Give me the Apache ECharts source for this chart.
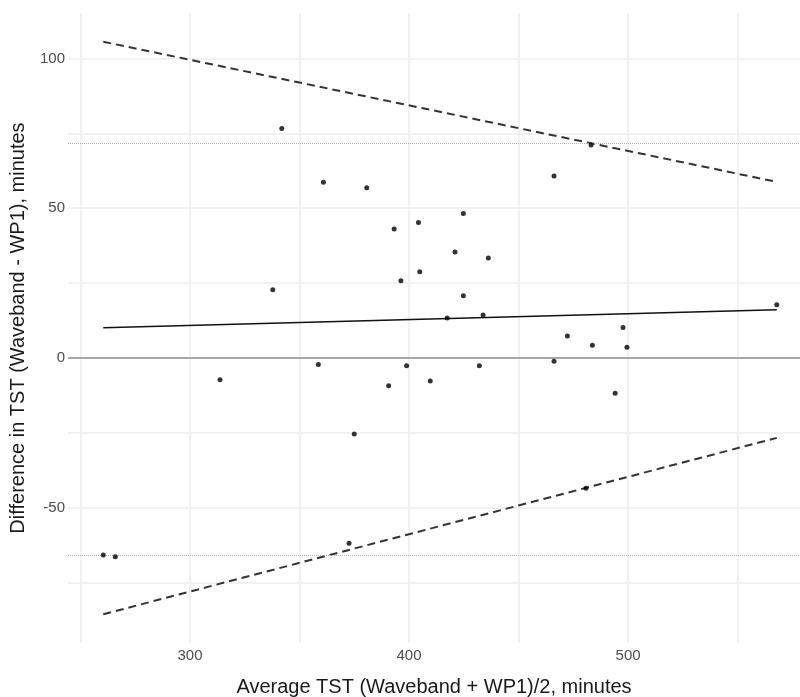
<!DOCTYPE html>
<html>
<head>
<meta charset="utf-8">
<script src="https://cdn.jsdelivr.net/npm/echarts@6/dist/echarts.min.js"></script>
<style>
  html, body { margin: 0; padding: 0; background: #fff; }
  #chart { width: 800px; height: 697px; }
</style>
</head>
<body>
<div id="chart"></div>
<script>
// average TST (x) and difference (y) per participant
const avgTST = [260.4, 265.9, 313.7, 337.8, 341.9, 358.6, 360.9, 372.6, 375.0, 380.7,
  390.7, 393.2, 396.3, 398.9, 404.3, 404.9, 409.7, 417.4, 421.0, 424.8,
  424.8, 432.1, 433.8, 436.2, 466.2, 466.2, 472.3, 480.8, 483.1, 483.7,
  494.1, 497.7, 499.5, 567.9];
const diffTST = [-65.8, -66.4, -7.3, 22.8, 76.6, -2.2, 58.7, -61.9, -25.4, 56.8,
  -9.3, 43.1, 25.8, -2.6, 45.2, 28.8, -7.7, 13.3, 35.4, 48.2,
  20.8, -2.6, 14.3, 33.4, 60.8, -1.1, 7.3, -43.5, 71.1, 4.2,
  -11.8, 10.2, 3.6, 17.8];

// regression line and its limits (end points)
const fitX = [260.4, 567.9];
const fitMid = [10.1, 16.1];
const fitUpper = [105.6, 58.8];
const fitLower = [-85.6, -26.7];

// horizontal limits of agreement (dotted)
const loaLines = [71.8, -65.8];

const xTicks = [300, 400, 500];
const yTicks = [-50, 0, 50, 100];
const xGrid = [250, 300, 350, 400, 450, 500, 550];
const yGrid = [-75, -50, -25, 0, 25, 50, 75, 100];

const pairs = (xs, ys) => xs.map((x, i) => [x, ys[i]]);

const myChart = echarts.init(document.getElementById('chart'));

const fitLine = (ys, type, color, width) => ({
  type: 'line',
  data: pairs(fitX, ys),
  symbol: 'none',
  silent: true,
  lineStyle: { color: color, width: width, type: type },
  z: 3
});

const option = {
  animation: false,
  backgroundColor: '#fff',
  grid: { left: 68, right: 0, top: 13, bottom: 54, outerBoundsMode: 'none', containLabel: false },
  xAxis: {
    type: 'value',
    min: 244.3,
    max: 578.5,
    name: 'Average TST (Waveband + WP1)/2, minutes',
    nameLocation: 'middle',
    nameGap: 34,
    nameTextStyle: { fontSize: 20, color: '#1a1a1a', fontFamily: 'Liberation Sans' },
    axisLine: { show: false },
    axisTick: { show: false, customValues: xGrid },
    axisLabel: {
      customValues: xTicks,
      fontSize: 15, color: '#4d4d4d', margin: 5, fontFamily: 'Liberation Sans'
    },
    splitLine: { show: true, lineStyle: { color: '#ececec', width: 1.5 } }
  },
  yAxis: {
    type: 'value',
    min: -95.2,
    max: 115.2,
    name: 'Difference in TST (Waveband - WP1), minutes',
    nameLocation: 'middle',
    nameGap: 40,
    nameTextStyle: { fontSize: 20, color: '#1a1a1a', fontFamily: 'Liberation Sans' },
    axisLine: { show: false },
    axisTick: { show: false, customValues: yGrid },
    axisLabel: {
      customValues: yTicks,
      fontSize: 15, color: '#4d4d4d', margin: 3, fontFamily: 'Liberation Sans'
    },
    splitLine: { show: true, lineStyle: { color: '#ececec', width: 1.5 } }
  },
  series: [
    {
      type: 'scatter',
      data: pairs(avgTST, diffTST),
      symbol: 'circle',
      symbolSize: 5,
      itemStyle: { color: '#000' },
      z: 5,
      markLine: {
        silent: true,
        symbol: 'none',
        label: { show: false },
        data: [
          { yAxis: 0, lineStyle: { color: '#a8a8a8', width: 1.8, type: 'solid' } },
          ...loaLines.map(v => ({ yAxis: v, lineStyle: { color: '#b0b0b0', width: 1, type: [1, 1] } }))
        ]
      }
    },
    fitLine(fitMid, 'solid', '#111', 1.4),
    fitLine(fitUpper, [8, 5], '#333', 2),
    fitLine(fitLower, [8, 5], '#333', 2)
  ]
};

myChart.setOption(option);
</script>
</body>
</html>
